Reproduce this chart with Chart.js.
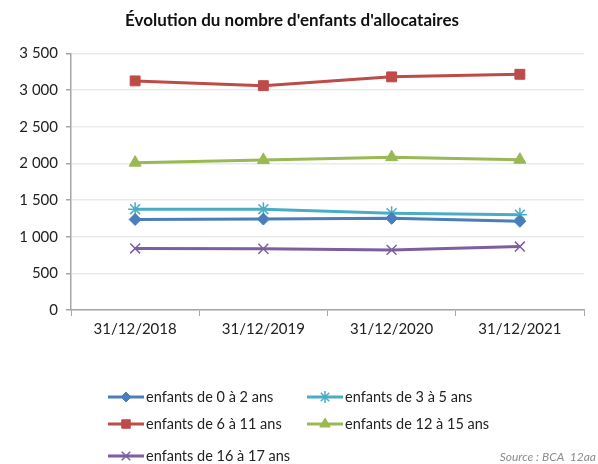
<!DOCTYPE html>
<html>
<head>
<meta charset="utf-8">
<script src="https://cdn.jsdelivr.net/npm/chart.js@4/dist/chart.umd.min.js"></script>
<style>
  html, body { margin: 0; padding: 0; background: #fff; }
  #wrap { width: 598px; height: 464px; position: relative; }
</style>
</head>
<body>
<div id="wrap"><canvas id="chart" width="598" height="464"></canvas></div>
<script>
const dates = ["31/12/2018", "31/12/2019", "31/12/2020", "31/12/2021"];

const age0to2 = [1235, 1240, 1250, 1210];
const age3to5 = [1375, 1375, 1320, 1300];
const age6to11 = [3125, 3060, 3180, 3215];
const age12to15 = [2010, 2045, 2085, 2050];
const age16to17 = [840, 835, 820, 865];

const seriesNames = [
  "enfants de 0 à 2 ans",
  "enfants de 3 à 5 ans",
  "enfants de 6 à 11 ans",
  "enfants de 12 à 15 ans",
  "enfants de 16 à 17 ans"
];

const FONT = "Lato, 'Open Sans', sans-serif";

const makeSet = (label, data, color, style, radius) => ({
  label: label,
  data: data,
  borderColor: color,
  backgroundColor: color,
  borderWidth: 3,
  pointStyle: style,
  pointRadius: radius,
  pointHoverRadius: radius,
  pointBorderWidth: style === "star" || style === "crossRot" ? 1.5 : 1,
  tension: 0
});

// legend drawn in two columns below the plot
const legendGrid = {
  id: "legendGrid",
  afterDraw(chart) {
    const ctx = chart.ctx;
    const cols = [108, 307];
    const rows = [397, 424, 456];
    ctx.save();
    chart.data.datasets.forEach((ds, i) => {
      const x = cols[i % 2];
      const y = rows[Math.floor(i / 2)];
      ctx.strokeStyle = ds.borderColor;
      ctx.fillStyle = ds.backgroundColor;
      ctx.lineWidth = 3;
      ctx.beginPath();
      ctx.moveTo(x, y);
      ctx.lineTo(x + 36, y);
      ctx.stroke();
      ctx.lineWidth = ds.pointBorderWidth;
      Chart.helpers.drawPoint(ctx, {
        pointStyle: ds.pointStyle,
        radius: ds.pointRadius - 1,
        borderWidth: ds.pointBorderWidth,
        rotation: 0
      }, x + 18, y);
      ctx.fillStyle = "#222";
      ctx.font = "14.5px " + FONT;
      ctx.textBaseline = "middle";
      ctx.textAlign = "left";
      ctx.fillText(ds.label, x + 38, y);
    });
    ctx.fillStyle = "#8c8c8c";
    ctx.font = "italic 12px " + FONT;
    ctx.textAlign = "right";
    ctx.fillText("Source : BCA  12aa", 596, 457);
    ctx.restore();
  }
};

new Chart(document.getElementById("chart"), {
  type: "line",
  data: {
    labels: dates,
    datasets: [
      makeSet(seriesNames[0], age0to2, "#4a7ebb", "rectRot", 6),
      makeSet(seriesNames[1], age3to5, "#4bacc6", "star", 7),
      makeSet(seriesNames[2], age6to11, "#be4b48", "rect", 7),
      makeSet(seriesNames[3], age12to15, "#98b954", "triangle", 7),
      makeSet(seriesNames[4], age16to17, "#7d5fa0", "crossRot", 7)
    ]
  },
  options: {
    responsive: false,
    animation: false,
    layout: { padding: { left: 0, right: 14, bottom: 120 } },
    plugins: {
      legend: { display: false },
      tooltip: { enabled: false },
      title: {
        display: true,
        text: "Évolution du nombre d'enfants d'allocataires",
        color: "#111",
        font: { family: FONT, size: 17, weight: "bold" },
        padding: { top: 10, bottom: 23 }
      }
    },
    scales: {
      x: {
        offset: true,
        afterFit(scale) { scale.height = 34; },
        grid: {
          offset: true,
          drawOnChartArea: false,
          drawTicks: true,
          tickLength: 6,
          color: "#a6a6a6"
        },
        border: { color: "#a6a6a6", width: 1.5 },
        ticks: {
          color: "#222",
          font: { family: FONT, size: 15 },
          padding: 4,
          maxRotation: 0
        }
      },
      y: {
        min: 0,
        max: 3500,
        afterFit(scale) { scale.width = 71; },
        grid: {
          color: "#ebebeb",
          lineWidth: 1.5,
          tickLength: 5,
          tickColor: "#a6a6a6"
        },
        border: { color: "#a6a6a6", width: 1.5 },
        ticks: {
          stepSize: 500,
          color: "#222",
          font: { family: FONT, size: 15 },
          padding: 8,
          callback: v => v.toLocaleString("fr-FR").replace(/\s/g, " ")
        }
      }
    }
  },
  plugins: [legendGrid]
});
</script>
</body>
</html>
